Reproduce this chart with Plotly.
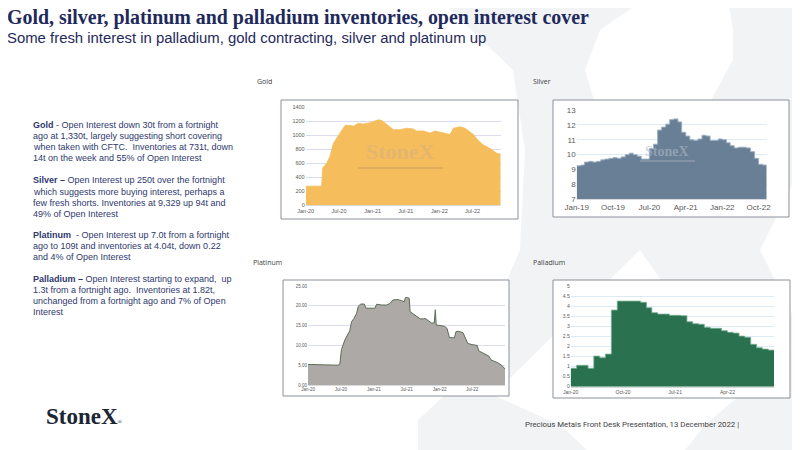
import plotly.graph_objects as go

# the page shows the figure 8px in from the top-left corner of the window
OX, OY = 8, 8
W, H = 800 - OX, 450 - OY

# Gold inventories (t)
gold_dates = ["2020-01-01", "2020-03-28", "2020-04-03", "2020-04-25", "2020-05-13", "2020-05-31",
              "2020-06-19", "2020-07-07", "2020-08-03", "2020-08-30", "2020-09-18", "2020-10-15",
              "2020-11-11", "2020-12-18", "2021-02-01", "2021-02-20", "2021-03-19", "2021-04-24",
              "2021-05-31", "2021-07-06", "2021-08-11", "2021-08-29", "2021-10-05", "2021-11-10",
              "2021-12-08", "2022-01-14", "2022-02-28", "2022-03-19", "2022-04-24", "2022-05-21",
              "2022-06-18", "2022-07-06", "2022-08-02", "2022-08-30", "2022-10-05", "2022-11-11",
              "2022-12-02"]
gold_vals = [270, 270, 530, 600, 700, 880, 960, 1040, 1140, 1140, 1130, 1170,
             1160, 1180, 1220, 1210, 1150, 1080, 1080, 1100, 1090, 1060, 1060, 1030,
             1060, 1040, 1010, 1100, 1120, 1100, 1040, 1010, 920, 860, 810, 740, 730]

# Silver inventories (thousand t), monthly
silver_months = ["2019-%02d-01" % m for m in range(1, 13)] + \
                ["2020-%02d-01" % m for m in range(1, 13)] + \
                ["2021-%02d-01" % m for m in range(1, 13)] + \
                ["2022-%02d-01" % m for m in range(1, 13)]
silver_vals = [9.25, 9.3, 9.5, 9.55, 9.5, 9.55, 9.65, 9.7, 9.75, 9.8, 9.75, 9.85,
               10.0, 10.1, 10.0, 9.9, 9.7, 9.7, 10.4, 10.7, 11.65, 11.85, 12.05, 12.35,
               12.4, 12.2, 11.5, 11.25, 11.0, 10.95, 11.05, 11.3, 11.25, 10.95, 10.95, 11.05,
               11.0, 10.8, 10.6, 10.45, 10.5, 10.5, 10.45, 10.2, 9.75, 9.35, 9.3, 9.3]

# Platinum inventories (t)
plat_dates = ["2020-01-01", "2020-03-06", "2020-03-25", "2020-06-16", "2020-06-26", "2020-07-05",
              "2020-07-24", "2020-08-11", "2020-08-20", "2020-08-30", "2020-09-12", "2020-09-27",
              "2020-10-06", "2020-10-19", "2020-11-08", "2020-11-18", "2021-01-07", "2021-01-16",
              "2021-02-13", "2021-03-13", "2021-04-01", "2021-04-16", "2021-05-08", "2021-06-05",
              "2021-06-18", "2021-06-25", "2021-07-06", "2021-07-16", "2021-07-21", "2021-08-09",
              "2021-08-28", "2021-09-15", "2021-10-04", "2021-10-13", "2021-11-01", "2021-11-19",
              "2021-12-02", "2021-12-08", "2021-12-13", "2021-12-26", "2022-01-29", "2022-02-11",
              "2022-02-24", "2022-03-24", "2022-04-02", "2022-04-17", "2022-05-11", "2022-05-24",
              "2022-06-06", "2022-06-30", "2022-07-28", "2022-08-07", "2022-09-04", "2022-10-01",
              "2022-10-14", "2022-11-17", "2022-12-09", "2022-12-25", "2022-12-30"]
plat_vals = [5.2, 5.1, 4.95, 5.0, 5.3, 9.0, 11.4, 12.8, 13.7, 16.0, 16.8, 18.1,
             19.8, 20.45, 20.45, 19.4, 19.4, 20.4, 20.2, 20.2, 20.6, 21.45, 21.6, 21.3,
             21.0, 22.05, 22.1, 21.9, 18.5, 17.9, 17.3, 16.7, 16.7, 16.8, 16.2, 15.6,
             15.7, 19.0, 15.1, 15.1, 14.8, 14.3, 12.0, 11.9, 13.5, 13.55, 13.2, 12.0,
             10.5, 10.2, 10.0, 8.6, 7.9, 7.3, 6.3, 5.7, 5.05, 4.46, 4.1]

# Palladium inventories (t), monthly
pall_months = ["2020-%02d-01" % m for m in range(1, 13)] + \
              ["2021-%02d-01" % m for m in range(1, 13)] + \
              ["2022-%02d-01" % m for m in range(1, 13)]
pall_vals = [0.92, 1.07, 1.07, 0.92, 1.53, 1.45, 1.63, 3.83, 4.28, 4.28, 4.28, 4.28,
             4.22, 3.95, 3.7, 3.63, 3.63, 3.57, 3.57, 3.55, 3.25, 3.15, 3.12, 2.97,
             2.92, 2.92, 2.8, 2.72, 2.68, 2.53, 2.47, 2.12, 1.95, 1.88, 1.83, 1.83]

title = "Gold, silver, platinum and palladium inventories, open interest cover"
subtitle = "Some fresh interest in palladium, gold contracting, silver and platinum up"
chart_labels = ["Gold", "Silver", "Platinum", "Palladium"]
notes = [
    ["<b>Gold</b> - Open Interest down 30t from a fortnight",
     "ago at 1,330t, largely suggesting short covering",
     "when taken with CFTC.  Inventories at 731t, down",
     "14t on the week and 55% of Open Interest"],
    ["<b>Silver –</b> Open Interest up 250t over the fortnight",
     "which suggests more buying interest, perhaps a",
     "few fresh shorts. Inventories at 9,329 up 94t and",
     "49% of Open Interest"],
    ["<b>Platinum</b>  - Open Interest up 7.0t from a fortnight",
     "ago to 109t and inventories at 4.04t, down 0.22",
     "and 4% of Open Interest"],
    ["<b>Palladium –</b> Open Interest starting to expand,  up",
     "1.3t from a fortnight ago.  Inventories at 1.82t,",
     "unchanged from a fortnight ago and 7% of Open",
     "Interest"],
]
footer = "Precious Metals Front Desk Presentation, 13 December 2022 |"


def px(x, y):
    return (x - OX) / W, 1 - (y - OY) / H


def dom_x(a, b):
    return [(a - OX) / W, (b - OX) / W]


def dom_y(top, bottom):
    return [1 - (bottom - OY) / H, 1 - (top - OY) / H]


fig = go.Figure()

fig.add_trace(go.Scatter(x=gold_dates, y=gold_vals, mode="lines", fill="tozeroy",
                         line=dict(color="#F5BD5C", width=0.8), fillcolor="#F5BD5C",
                         xaxis="x", yaxis="y", hoverinfo="skip"))
fig.add_trace(go.Scatter(x=silver_months, y=silver_vals, mode="lines", fill="tozeroy",
                         line=dict(color="#9CB0C4", width=1, shape="hv"), fillcolor="#687F96",
                         xaxis="x2", yaxis="y2", hoverinfo="skip"))
fig.add_trace(go.Scatter(x=plat_dates, y=plat_vals, mode="lines", fill="tozeroy",
                         line=dict(color="#5C6C55", width=1), fillcolor="#ADA9A7",
                         xaxis="x3", yaxis="y3", hoverinfo="skip"))
fig.add_trace(go.Scatter(x=pall_months, y=pall_vals, mode="lines", fill="tozeroy",
                         line=dict(color="#78B092", width=0.8, shape="hv"), fillcolor="#2A7150",
                         xaxis="x4", yaxis="y4", hoverinfo="skip"))

tick_col = "#595959"


def xax(domain, anchor, rng, dtick, tick0, size):
    return dict(domain=domain, anchor=anchor, type="date", range=rng, dtick=dtick, tick0=tick0,
                tickformat="%b-%y", tickfont=dict(size=size, color=tick_col, family="Liberation Sans"),
                showgrid=False, zeroline=False, showline=True, linecolor="#D9D9D9", linewidth=0.8,
                ticks="", fixedrange=True, automargin=False)


def yax(domain, anchor, rng, dtick, grid, size, fmt=None):
    d = dict(domain=domain, anchor=anchor, range=rng, dtick=dtick, tick0=0,
             tickfont=dict(size=size, color=tick_col, family="Liberation Sans"),
             showgrid=True, gridcolor=grid, gridwidth=1, zeroline=False, showline=False,
             ticks="", fixedrange=True, automargin=False)
    if fmt:
        d["tickformat"] = fmt
    return d


layout = dict(
    width=W, height=H, margin=dict(l=0, r=0, t=0, b=0, pad=0, autoexpand=False),
    paper_bgcolor="white", plot_bgcolor="rgba(0,0,0,0)", showlegend=False,
    xaxis=xax(dom_x(305.7, 500.7), "y", ["2020-01-01", "2022-12-02"], "M6", "2020-01-01", 5.5),
    yaxis=yax(dom_y(107.3, 205), "x", [0, 1400], 200, "#DCDCEF", 5.5),
    xaxis2=xax(dom_x(576.7, 766.7), "y2", ["2019-01-01", "2022-12-01"], "M9", "2019-01-01", 8),
    yaxis2=yax(dom_y(110, 199.3), "x2", [7, 13], 1, "#DDEBF7", 8),
    xaxis3=xax(dom_x(308, 505), "y3", ["2020-01-01", "2022-12-30"], "M6", "2020-01-01", 4.5),
    yaxis3=yax(dom_y(286, 385), "x3", [0, 25], 5, "#DCDCEF", 4.5, ".2f"),
    xaxis4=xax(dom_x(570.7, 774), "y4", ["2020-01-01", "2022-12-01"], "M9", "2020-01-01", 5),
    yaxis4=yax(dom_y(286.7, 386.7), "x4", [0, 5], 0.5, "#DDEBF7", 5),
)
fig.update_layout(**layout)

shapes = []

# big faint X in the slide background
x_pts = [(440, 0), (643, 0), (600, 30), (585, 70), (600, 120), (650, 185), (700, 120), (733, 60),
         (733, 30), (728, 0), (800, 0), (800, 170), (760, 250), (800, 330), (800, 450), (685, 450),
         (705, 425), (740, 395), (640, 250), (493, 395), (560, 425), (587, 450), (418, 450),
         (418, 420), (466, 375), (520, 250), (525, 150), (513, 70)]
path = "M " + " L ".join("%.4f %.4f" % px(a, b) for a, b in x_pts) + " Z"
shapes.append(dict(type="path", xref="paper", yref="paper", path=path,
                   fillcolor="#F2F3F5", line=dict(width=0), layer="below"))

# chart frames
for x0, y0, x1, y1 in [(281, 100, 518, 219), (553, 100, 789, 217),
                       (283, 280, 509, 396), (553, 280, 790, 398)]:
    a, b = px(x0, y0)
    c, d = px(x1, y1)
    shapes.append(dict(type="rect", xref="paper", yref="paper", x0=a, y0=d, x1=c, y1=b,
                       fillcolor="white", line=dict(color="#8A9099", width=1), layer="below"))

# watermark bars
for x0, x1, y, col in [(358, 443, 168, "rgba(205,160,95,0.55)"), (640, 695, 161, "rgba(150,160,175,0.6)")]:
    a, b = px(x0, y - 1)
    c, d = px(x1, y + 1)
    shapes.append(dict(type="rect", xref="paper", yref="paper", x0=a, y0=d, x1=c, y1=b,
                       fillcolor=col, line=dict(width=0), layer="above"))

fig.update_layout(shapes=shapes)

ann = []


def text(x, y, s, size, color, family="Liberation Sans", xanchor="left", yanchor="middle"):
    a, b = px(x, y)
    ann.append(dict(x=a, y=b, xref="paper", yref="paper", text=s, showarrow=False,
                    xanchor=xanchor, yanchor=yanchor, align="left", borderpad=0,
                    font=dict(size=size, color=color, family=family)))


# title + subtitle in one block
head = ("<span style='font-family:Liberation Serif;font-size:19.9px'><b>" + title + "</b></span>"
        "<br>" + subtitle)
text(6, 47, head, 14.9, "#1F2A5C", yanchor="bottom")

for para, y0 in zip(notes, [125, 180.5, 235, 279]):
    for i, line in enumerate(para):
        text(32, y0 + i * 11, line, 9, "#2F386E")

for lab, (x, y) in zip(chart_labels, [(256, 82), (532, 82), (252, 263), (532, 263)]):
    text(x, y, lab, 7, "#404040", "Open Sans")

# watermarks
text(400.7, 152, "<b>StoneX</b>", 22, "rgba(200,170,140,0.4)", "Liberation Serif", "center")
text(667, 152, "<b>StoneX</b>", 14, "rgba(175,185,198,0.6)", "Liberation Serif", "center")

# footer
text(45, 416, "<b>StoneX</b><span style='font-size:6px'>®</span>", 23, "#1C2533", "Liberation Serif")
text(524, 424, footer, 7.8, "#404040", "Roboto")

fig.update_layout(annotations=ann)

fig.write_html("out.html")
